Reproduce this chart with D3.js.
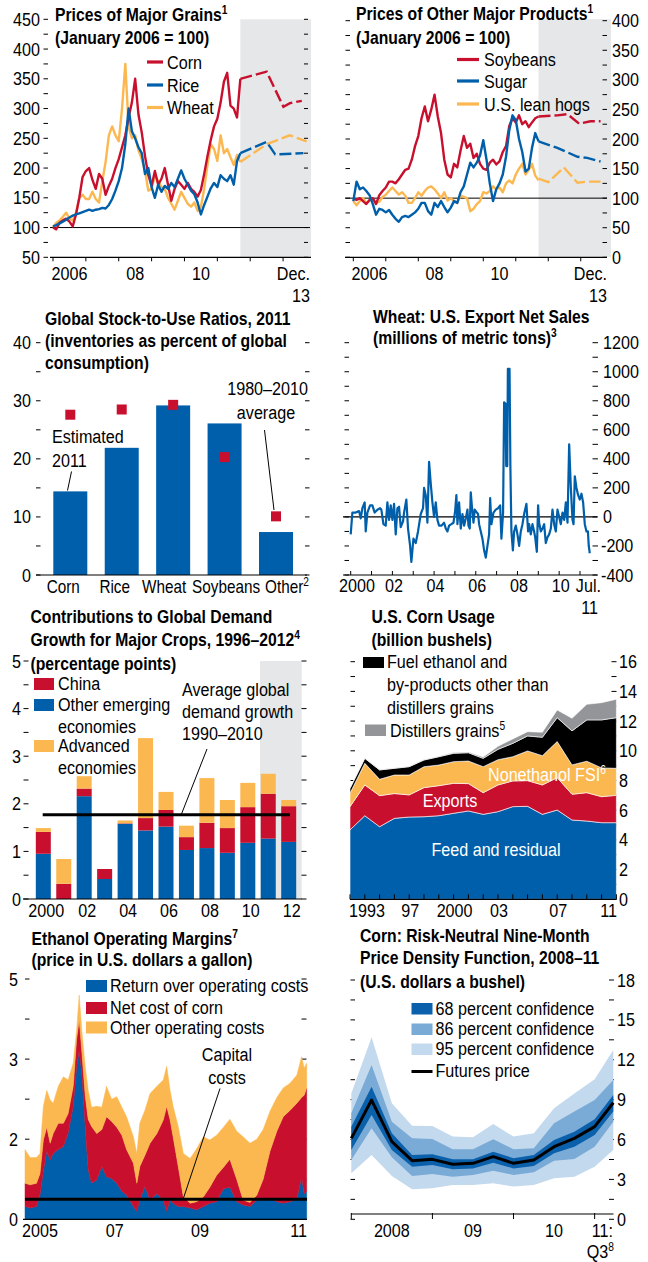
<!DOCTYPE html>
<html>
<head>
<meta charset="utf-8">
<title>Commodity market indicators</title>
<script src="https://cdn.jsdelivr.net/npm/d3@7"></script>
<style>
  body { margin: 0; background: #fff; }
  svg { display: block; font-family: 'Liberation Sans', Arial, sans-serif; }
</style>
</head>
<body>
<svg id="chart" width="648" height="1262"></svg>
<script>
const red = '#c8102e'
const blue = '#005faa'
const yellow = '#fcb850'
const shade = '#e6e7e8'
const distGray = '#939598'
const band68Color = '#0a60ab'
const band86Color = '#7aaad6'
const band95Color = '#c3d9ee'

// prices, January 2006 = 100, read every 0.1 year from 2006.0
const priceStart = 2006
const priceStep = 0.1
const forecastFrom = 2011.7
const cornPrice = [100, 97, 108, 112, 115, 110, 102, 122, 150, 185, 195, 200, 180, 165, 190, 182, 155, 170, 182, 200,
  215, 235, 255, 285, 310, 350, 290, 260, 220, 188, 170, 195, 172, 182, 200, 172, 145, 165, 178, 172,
  165, 175, 165, 160, 152, 163, 190, 220, 247, 270, 283, 310, 345, 360, 305, 300, 285, 350]
const ricePrice = [102, 104, 107, 110, 113, 117, 120, 122, 124, 126, 128, 130, 128, 130, 131, 133, 132, 138, 148, 162,
  178, 200, 240, 300, 262, 250, 235, 225, 190, 200, 168, 150, 172, 160, 170, 165, 175, 168, 182, 196,
  182, 172, 162, 156, 142, 122, 138, 152, 166, 175, 168, 188, 182, 178, 188, 172, 212, 225]
const wheatPrice = [100, 108, 112, 118, 125, 115, 112, 125, 150, 155, 148, 148, 160, 148, 142, 178, 210, 255, 270, 255,
  245, 300, 375, 270, 250, 255, 230, 215, 195, 162, 165, 188, 178, 168, 165, 150, 140, 130, 145, 160,
  150, 140, 135, 142, 128, 135, 165, 205, 240, 232, 212, 255, 225, 232, 218, 205, 222, 210]
const cornForecast = [[2011.7, 350], [2012.5, 362], [2013.01, 303], [2013.21, 309], [2013.57, 313]]
const riceForecast = [[2011.7, 225], [2012.5, 244], [2012.76, 223], [2013.62, 225]]
const wheatForecast = [[2011.7, 210], [2012.5, 240], [2013.2, 255], [2013.72, 245]]

const soyPrice = [100, 97, 100, 95, 90, 97, 100, 90, 105, 112, 118, 128, 128, 125, 132, 140, 148, 150, 165, 188,
  205, 235, 255, 230, 250, 275, 238, 210, 165, 140, 135, 158, 152, 180, 205, 185, 192, 168, 175, 158,
  150, 148, 160, 165, 157, 162, 178, 188, 222, 235, 228, 240, 225, 230, 220, 228, 235, 238]
const sugarPrice = [95, 128, 115, 118, 112, 105, 90, 72, 82, 80, 76, 80, 72, 65, 60, 68, 70, 68, 72, 76,
  82, 92, 92, 78, 72, 92, 85, 95, 85, 76, 84, 95, 92, 110, 120, 140, 160, 152, 160, 172,
  198, 165, 125, 95, 115, 125, 140, 170, 215, 240, 232, 200, 178, 145, 150, 185, 210, 196]
const hogPrice = [95, 88, 95, 100, 92, 96, 98, 92, 94, 102, 106, 112, 118, 112, 106, 110, 104, 92, 92, 100,
  110, 104, 112, 118, 120, 115, 108, 100, 110, 96, 100, 95, 92, 105, 102, 100, 78, 82, 90, 95,
  110, 108, 112, 120, 115, 118, 110, 125, 130, 125, 140, 150, 158, 140, 148, 158, 138, 130]
const soyForecast = [[2011.7, 238], [2012.28, 240], [2012.59, 242], [2012.95, 226], [2013.3, 230], [2013.61, 230]]
const sugarForecast = [[2011.7, 196], [2012.28, 185], [2012.9, 170], [2013.2, 168], [2013.61, 162]]
const hogForecast = [[2011.7, 133], [2012.0, 127], [2012.48, 152], [2012.9, 126], [2013.2, 128], [2013.61, 128]]

const grainTicks = [50, 100, 150, 200, 250, 300, 350, 400, 450]
const productTicks = [0, 50, 100, 150, 200, 250, 300, 350, 400]
const priceYearLabels = ['2006', '08', '10']
const priceYearAt = [2006.5, 2008.5, 2010.5]

// stock-to-use ratios, 2011
const stockCategories = ['Corn', 'Rice', 'Wheat', 'Soybeans', 'Other']
const stockEstimated2011 = [14.4, 21.9, 29.2, 26.1, 7.4]
const stockAverage = [27.6, 28.5, 29.3, 20.3, 10.1]
const stockTicks = [0, 10, 20, 30, 40]

// wheat export net sales
const exportNetSales = [
  [2000.00, -120], [2000.08, 30], [2000.24, 30], [2000.40, 40], [2000.48, -10], [2000.56, 60], [2000.67, 100], [2000.72, -100], [2000.80, 30], [2000.93, 80],
  [2001.04, 80], [2001.15, 30], [2001.28, 50], [2001.41, 60], [2001.47, 50], [2001.57, -50], [2001.68, -60], [2001.76, 100], [2001.84, -20], [2001.92, 80],
  [2002.00, -20], [2002.08, 90], [2002.16, -120], [2002.24, 60], [2002.32, 70], [2002.40, -70], [2002.51, -30], [2002.56, 30], [2002.67, 120], [2002.75, -80],
  [2002.85, -200], [2002.91, -310], [2003.01, -150], [2003.12, -180], [2003.23, -100], [2003.36, 20], [2003.47, 60], [2003.52, 200], [2003.60, 150], [2003.68, -40],
  [2003.76, 380], [2003.84, 230], [2003.92, 100], [2004.00, 0], [2004.08, 100], [2004.16, -20], [2004.24, -60], [2004.35, -60], [2004.48, -40], [2004.56, -80],
  [2004.64, -100], [2004.72, -60], [2004.83, -50], [2004.93, -40], [2005.01, 40], [2005.07, 150], [2005.12, -50], [2005.20, 100], [2005.28, -80], [2005.36, 20],
  [2005.44, -60], [2005.52, -10], [2005.60, 50], [2005.65, -60], [2005.71, -80], [2005.76, 170], [2005.81, 80], [2005.89, -40], [2005.95, 50], [2006.05, 30],
  [2006.11, 20], [2006.16, -50], [2006.24, -100], [2006.32, -150], [2006.40, -230], [2006.48, -280], [2006.56, -200], [2006.64, -120], [2006.69, 130], [2006.75, -50],
  [2006.85, 30], [2006.96, 50], [2007.07, 60], [2007.17, 80], [2007.23, -150], [2007.31, 30], [2007.36, 790], [2007.43, 780], [2007.46, 350], [2007.51, 350],
  [2007.54, 1020], [2007.62, 1020], [2007.66, 350], [2007.71, -100], [2007.78, -230], [2007.84, -100], [2007.92, -60], [2008.00, -120], [2008.08, -200], [2008.16, -100],
  [2008.24, -50], [2008.32, 20], [2008.43, 90], [2008.51, -100], [2008.56, -50], [2008.64, -120], [2008.72, -50], [2008.80, -100], [2008.85, -140], [2008.93, -240],
  [2008.99, 80], [2009.04, -40], [2009.12, -100], [2009.20, -80], [2009.28, -50], [2009.36, -180], [2009.44, -140], [2009.52, -120], [2009.60, -80], [2009.68, 50],
  [2009.76, -50], [2009.84, -100], [2009.92, 50], [2010.00, 0], [2010.08, -50], [2010.16, 30], [2010.24, -20], [2010.32, 100], [2010.40, -40], [2010.48, 500],
  [2010.56, 200], [2010.64, -20], [2010.69, -50], [2010.75, 280], [2010.83, 200], [2010.91, 150], [2010.99, 120], [2011.07, 160], [2011.15, 100], [2011.23, -50],
  [2011.31, -100], [2011.38, -100], [2011.42, -200], [2011.47, -250]
]
const exportTicks = [-400, -200, 0, 200, 400, 600, 800, 1000, 1200]
const exportYearLabels = ['02', '04', '06', '08', '10']
const exportYearAt = [2002, 2004, 2006, 2008, 2010]

// contributions to global demand growth
const demandYears = [2000, 2001, 2002, 2003, 2004, 2005, 2006, 2007, 2008, 2009, 2010, 2011, 2012]
const demandOtherEmerging = [0.95, 0, 2.16, 0.42, 1.58, 1.44, 1.52, 1.03, 1.07, 0.97, 1.18, 1.27, 1.20]
const demandChina = [0.46, 0.32, 0.16, 0.21, 0.01, 0.26, 0.35, 0.27, 0.53, 0.52, 0.75, 0.94, 0.75]
const demandAdvanced = [0.08, 0.52, 0.26, 0, 0.06, 1.68, 0.38, 0.24, 0.94, 0.59, 0.51, 0.42, 0.13]
const demandAverage = 1.77
const demandTicks = [0, 1, 2, 3, 4, 5]
const demandYearLabels = ['2000', '02', '04', '06', '08', '10', '12']

// U.S. corn usage, billion bushels
const cornUseYears = [1993, 1994, 1995, 1996, 1997, 1998, 1999, 2000, 2001, 2002, 2003, 2004, 2005, 2006, 2007, 2008, 2009, 2010, 2011]
const cornFeed = [4.67, 5.63, 4.89, 5.45, 5.54, 5.56, 5.63, 5.79, 5.95, 5.72, 5.90, 6.24, 6.26, 5.72, 6.01, 5.34, 5.27, 5.16, 5.16]
const cornExports = [1.57, 2.07, 2.09, 1.67, 1.49, 1.96, 2.02, 2.02, 1.84, 1.46, 1.80, 1.73, 1.73, 1.98, 2.18, 1.73, 1.91, 1.75, 1.84]
const cornFsi = [0.90, 1.46, 1.10, 1.25, 1.34, 1.41, 1.39, 1.46, 1.52, 1.75, 1.70, 1.63, 2.00, 1.97, 2.43, 1.98, 2.12, 1.94, 1.82]
const cornEthanol = [0.33, 0.33, 0.63, 0.45, 0.56, 0.45, 0.56, 0.56, 0.56, 0.56, 0.70, 0.90, 1.01, 1.24, 1.61, 2.29, 2.78, 3.23, 3.41]
const cornDistillers = [0.03, 0.03, 0.03, 0.03, 0.03, 0.04, 0.04, 0.05, 0.05, 0.10, 0.20, 0.30, 0.29, 0.34, 0.52, 0.85, 1.05, 1.16, 1.24]
const cornUseTicks = [0, 2, 4, 6, 8, 10, 12, 14, 16]
const cornUseYearLabels = ['97', '2000', '03', '07']
const cornUseYearAt = [1997, 2000, 2003, 2007]

// ethanol operating margins
const ethanolTimes = [2004.90, 2005.02, 2005.17, 2005.25, 2005.33, 2005.41, 2005.49, 2005.56, 2005.68, 2005.80,
  2005.91, 2006.03, 2006.11, 2006.17, 2006.23, 2006.31, 2006.38, 2006.46, 2006.58, 2006.70,
  2006.81, 2006.93, 2007.05, 2007.17, 2007.28, 2007.44, 2007.52, 2007.59, 2007.71, 2007.83,
  2007.99, 2008.14, 2008.22, 2008.30, 2008.37, 2008.49, 2008.61, 2008.77, 2008.92, 2009.08,
  2009.23, 2009.39, 2009.55, 2009.70, 2009.86, 2010.01, 2010.17, 2010.33, 2010.48, 2010.64,
  2010.80, 2010.95, 2011.11, 2011.27, 2011.38, 2011.44, 2011.50]
const ethanolReturn = [0.16, 0.14, 0.16, 0.30, 0.60, 0.85, 0.74, 0.82, 0.87, 0.91,
  1.07, 1.41, 1.90, 2.11, 1.82, 1.16, 0.62, 0.45, 0.49, 0.66,
  0.53, 0.51, 0.45, 0.35, 0.30, 0.16, 0.10, 0.24, 0.41, 0.24,
  0.32, 0.24, 0.10, 0.24, 0.20, 0.16, 0.16, 0.14, 0.12, 0.16,
  0.20, 0.22, 0.38, 0.40, 0.22, 0.18, 0.16, 0.24, 0.24, 0.26,
  0.22, 0.20, 0.22, 0.25, 0.53, 0.32, 0.35]
const ethanolCornCost = [0.29, 0.29, 0.29, 0.27, 0.39, 0.30, 0.21, 0.25, 0.33, 0.29,
  0.25, 0.25, 0.35, 0.38, 0.28, 0.39, 0.63, 0.71, 0.58, 0.46,
  0.75, 0.71, 0.70, 0.70, 0.57, 0.54, 0.35, 0.42, 0.39, 0.71,
  0.75, 1.00, 1.31, 1.00, 0.83, 0.50, 0.12, 0.06, 0.10, 0.12,
  0.20, 0.33, 0.27, 0.35, 0.28, 0.06, 0.05, 0.06, 0.26, 0.59,
  0.88, 1.08, 1.14, 1.20, 0.99, 1.23, 1.29]
const ethanolOtherCost = [0.42, 0.34, 0.32, 0.25, 0.42, 0.46, 0.54, 0.38, 0.46, 0.58,
  0.42, 0.29, 0.11, 0.31, 0.26, 0.36, 0.36, 0.24, 0.34, 0.28,
  0.38, 0.28, 0.38, 0.35, 0.41, 0.33, 0.37, 0.54, 0.56, 0.62,
  0.59, 0.50, 0.50, 0.37, 0.38, 0.50, 0.54, 0.56, 0.66, 0.75,
  0.59, 0.50, 0.50, 0.50, 0.60, 0.79, 0.74, 0.70, 0.62, 0.50,
  0.42, 0.36, 0.34, 0.35, 0.51, 0.34, 0.31]
const capitalCost = 0.25
const ethanolTickAt = [0, 0.5, 1, 1.5, 2, 2.5, 3]
const ethanolTickLabels = ['0', '', '2', '', '3', '', '5']
const ethanolYearLabels = ['07', '09']
const ethanolYearAt = [2007, 2009]

// corn risk-neutral density, U.S. dollars a bushel
const densityDates = [2008.0, 2008.25, 2008.5, 2008.75, 2009.0, 2009.25, 2009.5, 2009.75, 2010.0, 2010.25, 2010.5, 2010.75, 2011.0, 2011.23]
const futuresPrice = [6.09, 8.97, 5.84, 4.41, 4.51, 4.14, 4.21, 4.71, 4.21, 4.46, 5.46, 6.09, 6.97, 8.77]
const band68Low = [5.21, 7.84, 5.21, 3.96, 4.09, 3.76, 3.83, 4.26, 3.83, 4.01, 4.96, 5.46, 6.34, 8.10]
const band68High = [6.97, 9.97, 6.47, 4.84, 4.89, 4.51, 4.51, 5.09, 4.59, 4.84, 5.96, 6.59, 7.52, 9.35]
const band86Low = [4.46, 6.84, 4.66, 3.26, 3.41, 3.21, 3.33, 3.66, 3.33, 3.53, 4.41, 4.54, 5.46, 7.34]
const band86High = [7.97, 11.6, 7.34, 6.09, 6.04, 5.26, 5.26, 6.02, 5.26, 5.34, 7.22, 8.10, 8.97, 10.48]
const band95Low = [3.46, 4.84, 3.26, 2.26, 2.33, 2.58, 2.58, 2.71, 2.46, 2.58, 3.08, 3.21, 3.96, 5.21]
const band95High = [9.47, 13.7, 8.72, 7.04, 7.02, 6.22, 6.17, 7.17, 6.22, 6.47, 8.35, 9.47, 10.53, 12.73]
const densityTicks = [0, 3, 6, 9, 12, 15, 18]
const densityYearLabels = ['2008', '09', '10']
const densityYearAt = [2008.5, 2009.5, 2010.5]

const titleSize = 18.5
const textSize = 19
const supSize = 12
// the original face is a condensed grotesque, so squeeze Liberation Sans sideways
const squeeze = 0.85

var svg = d3.select('#chart')

function addText(g, x, y, str, opts) {
  opts = opts || {}
  var t = g.append('text')
    .attr('transform', 'translate(' + x + ',' + y + ') scale(' + squeeze + ',1)')
    .attr('font-size', opts.size || textSize)
    .attr('text-anchor', opts.anchor || 'start')
    .attr('fill', opts.fill || '#000')
  if (opts.bold) t.attr('font-weight', 'bold')
  t.append('tspan').text(str)
  if (opts.sup) {
    t.append('tspan').attr('dy', -7).attr('font-size', supSize).text(opts.sup)
  }
  return t
}

function addTitle(g, x, ys, lines, supLine, sup) {
  lines.forEach(function(line, i) {
    addText(g, x, ys[i], line, { bold: true, size: titleSize, sup: i === supLine ? sup : null })
  })
}

function drawDashes(g, ys, x1, x2) {
  g.selectAll(null)
    .data(ys)
    .enter()
    .append('line')
    .attr('x1', x1)
    .attr('x2', x2)
    .attr('y1', function(d) { return d })
    .attr('y2', function(d) { return d })
    .attr('stroke', '#000')
    .attr('stroke-width', 1)
}

function drawHLine(g, x1, x2, y, width, color) {
  g.append('line')
    .attr('x1', x1)
    .attr('x2', x2)
    .attr('y1', y)
    .attr('y2', y)
    .attr('stroke', color || '#000')
    .attr('stroke-width', width)
}

function drawXTicks(g, xs, y1, y2) {
  g.selectAll(null)
    .data(xs)
    .enter()
    .append('line')
    .attr('x1', function(d) { return d })
    .attr('x2', function(d) { return d })
    .attr('y1', y1)
    .attr('y2', y2)
    .attr('stroke', '#000')
    .attr('stroke-width', 1)
}

function toPairs(values, start, step) {
  return values.map(function(v, i) { return [start + i * step, v] })
}

function drawPriceLines(g, x, y, series) {
  var line = d3.line()
    .x(function(d) { return x(d[0]) })
    .y(function(d) { return y(d[1]) })
  series.forEach(function(s) {
    g.append('path')
      .datum(toPairs(s.values, priceStart, priceStep))
      .attr('d', line)
      .attr('fill', 'none')
      .attr('stroke', s.color)
      .attr('stroke-width', 2.4)
      .attr('stroke-linejoin', 'round')
    g.append('path')
      .datum(s.forecast)
      .attr('d', line)
      .attr('fill', 'none')
      .attr('stroke', s.color)
      .attr('stroke-width', 2.4)
      .attr('stroke-dasharray', '12,4')
  })
}

function drawLineLegend(g, x1, x2, textX, items) {
  items.forEach(function(item) {
    drawHLine(g, x1, x2, item.y, 3.2, item.color)
    addText(g, textX, item.y + 6.5, item.label)
  })
}

function drawBoxLegend(g, x, w, h, textX, items) {
  items.forEach(function(item) {
    g.append('rect')
      .attr('x', x)
      .attr('y', item.y)
      .attr('width', w)
      .attr('height', h)
      .attr('fill', item.color)
    item.lines.forEach(function(l, i) {
      addText(g, textX, item.y + h + i * 22, l)
    })
  })
}

function drawMajorGrains() {
  var g = svg.append('g')
  var x = d3.scaleLinear().domain([2006, 2013.85]).range([53, 311])
  var y = d3.scaleLinear().domain([50, 450]).range([257.3, 19.3])

  g.append('rect')
    .attr('x', x(forecastFrom))
    .attr('y', y(450))
    .attr('width', x(2013.85) - x(forecastFrom))
    .attr('height', y(50) - y(450))
    .attr('fill', shade)

  var dashValues = d3.range(50, 451, 25)
  drawDashes(g, dashValues.map(y), 43.5, 48)
  drawDashes(g, dashValues.map(y), 304, 308)
  grainTicks.forEach(function(v) {
    addText(g, 40, y(v) + 6.5, v, { anchor: 'end' })
  })

  drawHLine(g, 50, 310, y(100), 1)
  drawHLine(g, 50, 311, y(50), 1.2)
  drawXTicks(g, d3.range(2006, 2014).map(x), y(50), y(50) + 4)
  priceYearLabels.forEach(function(l, i) {
    addText(g, x(priceYearAt[i]), 280, l, { anchor: 'middle' })
  })
  addText(g, 310, 280, 'Dec.', { anchor: 'end' })
  addText(g, 310, 302, '13', { anchor: 'end' })

  drawPriceLines(g, x, y, [
    { values: wheatPrice, forecast: wheatForecast, color: yellow },
    { values: cornPrice, forecast: cornForecast, color: red },
    { values: ricePrice, forecast: riceForecast, color: blue }
  ])

  drawLineLegend(g, 147, 163, 167, [
    { label: 'Corn', color: red, y: 62 },
    { label: 'Rice', color: blue, y: 85 },
    { label: 'Wheat', color: yellow, y: 107.5 }
  ])
  addTitle(g, 55, [21, 44], ['Prices of Major Grains', '(January 2006 = 100)'], 0, '1')
}

function drawOtherProducts() {
  var g = svg.append('g')
  var x = d3.scaleLinear().domain([2006, 2013.9]).range([353.3, 610])
  var y = d3.scaleLinear().domain([0, 400]).range([257.3, 20.7])

  g.append('rect')
    .attr('x', x(forecastFrom))
    .attr('y', y(400) - 1.5)
    .attr('width', 611 - x(forecastFrom))
    .attr('height', y(0) - y(400) + 1.5)
    .attr('fill', shade)

  var dashValues = d3.range(0, 401, 25)
  drawDashes(g, dashValues.map(y), 345.5, 350)
  drawDashes(g, dashValues.map(y), 602.5, 607)
  productTicks.forEach(function(v) {
    addText(g, 612, y(v) + 6.5, v)
  })

  drawHLine(g, 345, 607, y(100), 1)
  drawHLine(g, 345, 607, y(0), 1.2)
  drawXTicks(g, d3.range(2006, 2014).map(x), y(0), y(0) + 4)
  priceYearLabels.forEach(function(l, i) {
    addText(g, x(priceYearAt[i]), 280, l, { anchor: 'middle' })
  })
  addText(g, 607, 280, 'Dec.', { anchor: 'end' })
  addText(g, 607, 302, '13', { anchor: 'end' })

  drawPriceLines(g, x, y, [
    { values: hogPrice, forecast: hogForecast, color: yellow },
    { values: soyPrice, forecast: soyForecast, color: red },
    { values: sugarPrice, forecast: sugarForecast, color: blue }
  ])

  drawLineLegend(g, 457, 479, 484, [
    { label: 'Soybeans', color: red, y: 59.5 },
    { label: 'Sugar', color: blue, y: 81 },
    { label: 'U.S. lean hogs', color: yellow, y: 104 }
  ])
  addTitle(g, 356, [20, 44], ['Prices of Other Major Products', '(January 2006 = 100)'], 0, '1')
}

function drawStockToUse() {
  var g = svg.append('g')
  var x = d3.scalePoint().domain(stockCategories).range([70.3, 276])
  var y = d3.scaleLinear().domain([0, 40]).range([575, 342.7])
  var barWidth = 34
  // the category names are nudged apart so that they do not run into each other
  var labelShift = [-7, -7, -9, 1.5, 11]

  var dashValues = d3.range(0, 41, 5)
  drawDashes(g, dashValues.map(y), 36, 40.5)
  drawDashes(g, dashValues.map(y), 305, 309.5)
  stockTicks.forEach(function(v) {
    addText(g, 31, y(v) + 6.5, v, { anchor: 'end' })
  })

  g.selectAll(null)
    .data(stockCategories)
    .enter()
    .append('rect')
    .attr('x', function(d) { return x(d) - barWidth / 2 })
    .attr('y', function(d, i) { return y(stockEstimated2011[i]) })
    .attr('width', barWidth)
    .attr('height', function(d, i) { return y(0) - y(stockEstimated2011[i]) })
    .attr('fill', blue)

  g.selectAll(null)
    .data(stockCategories)
    .enter()
    .append('rect')
    .attr('x', function(d) { return x(d) - 5 })
    .attr('y', function(d, i) { return y(stockAverage[i]) - 5 })
    .attr('width', 10)
    .attr('height', 10)
    .attr('fill', red)

  drawHLine(g, 36, 307, y(0), 1.2)
  stockCategories.forEach(function(c, i) {
    addText(g, x(c) + labelShift[i], 593, c, { anchor: 'middle', size: 18, sup: c === 'Other' ? '2' : null })
  })

  addText(g, 52, 443, 'Estimated')
  addText(g, 52, 466.5, '2011')
  g.append('line').attr('x1', 71.5).attr('y1', 471.5).attr('x2', 67.5).attr('y2', 490.5).attr('stroke', '#000')
  addText(g, 308, 395, '1980–2010', { anchor: 'end' })
  addText(g, 266, 419, 'average', { anchor: 'middle' })
  g.append('line').attr('x1', 264.5).attr('y1', 430).attr('x2', 274).attr('y2', 510).attr('stroke', '#000')

  addTitle(g, 45, [325, 347, 368.5], ['Global Stock-to-Use Ratios, 2011', '(inventories as percent of global', 'consumption)'], -1, null)
}

function drawExportSales() {
  var g = svg.append('g')
  var x = d3.scaleLinear().domain([2000, 2011.47]).range([350.7, 589.8])
  var y = d3.scaleLinear().domain([-400, 1200]).range([575, 342.7])

  var dashValues = d3.range(-400, 1201, 100)
  drawDashes(g, dashValues.map(y), 344.5, 349)
  drawDashes(g, dashValues.map(y), 592.5, 598)
  exportTicks.forEach(function(v) {
    addText(g, v < 0 ? 601 : 603, y(v) + 6.5, v)
  })

  drawHLine(g, 343, 597, y(0), 1.2)
  drawHLine(g, 343, 597, y(-400), 1.2)
  drawXTicks(g, d3.range(2000, 2012).map(x), y(-400) - 4, y(-400))
  addText(g, 339, 592, '2000')
  exportYearLabels.forEach(function(l, i) {
    addText(g, x(exportYearAt[i]) + 1.5, 592, l, { anchor: 'middle' })
  })
  addText(g, 601, 592, 'Jul.', { anchor: 'end' })
  addText(g, 598, 614, '11', { anchor: 'end' })

  var line = d3.line()
    .x(function(d) { return x(d[0]) })
    .y(function(d) { return y(d[1]) })
  g.append('path')
    .datum(exportNetSales)
    .attr('d', line)
    .attr('fill', 'none')
    .attr('stroke', blue)
    .attr('stroke-width', 2.2)
    .attr('stroke-linejoin', 'round')

  addTitle(g, 373, [322.5, 343.5], ['Wheat: U.S. Export Net Sales', '(millions of metric tons)'], 1, '3')
}

function drawDemandGrowth() {
  var g = svg.append('g')
  var x = d3.scalePoint().domain(demandYears).range([43.3, 288.7])
  var y = d3.scaleLinear().domain([0, 5]).range([899, 661])
  var barWidth = 15

  g.append('rect')
    .attr('x', 260)
    .attr('y', y(5))
    .attr('width', 41.7)
    .attr('height', y(0) - y(5))
    .attr('fill', shade)

  var dashValues = d3.range(0, 5.01, 0.5)
  drawDashes(g, dashValues.map(y), 23.5, 28.5)
  drawDashes(g, dashValues.map(y), 301.5, 306.5)
  demandTicks.forEach(function(v) {
    addText(g, 21, y(v) + 6.5, v, { anchor: 'end' })
  })

  var rows = demandYears.map(function(yr, i) {
    return { year: yr, other: demandOtherEmerging[i], china: demandChina[i], advanced: demandAdvanced[i] }
  })
  var keys = ['other', 'china', 'advanced']
  var colors = { other: blue, china: red, advanced: yellow }
  var stacked = d3.stack().keys(keys)(rows)
  stacked.forEach(function(layer) {
    g.selectAll(null)
      .data(layer)
      .enter()
      .append('rect')
      .attr('x', function(d) { return x(d.data.year) - barWidth / 2 })
      .attr('y', function(d) { return y(d[1]) })
      .attr('width', barWidth)
      .attr('height', function(d) { return y(d[0]) - y(d[1]) })
      .attr('fill', colors[layer.key])
  })

  drawHLine(g, 23, 302, y(0), 1.2)
  drawHLine(g, 42.7, 290, y(demandAverage), 3)
  demandYearLabels.forEach(function(l, i) {
    addText(g, x(demandYears[i * 2]) + 3, 917, l, { anchor: 'middle' })
  })

  drawBoxLegend(g, 34, 20, 12, 58, [
    { color: red, y: 678, lines: ['China'] },
    { color: blue, y: 699, lines: ['Other emerging', 'economies'] },
    { color: yellow, y: 740, lines: ['Advanced', 'economies'] }
  ])
  addText(g, 182, 696, 'Average global')
  addText(g, 182, 718, 'demand growth')
  addText(g, 182, 740, '1990–2010')
  g.append('line').attr('x1', 207).attr('y1', 749).attr('x2', 181.5).attr('y2', 814).attr('stroke', '#000')

  addTitle(g, 30.5, [623, 645.5, 670], ['Contributions to Global Demand', 'Growth for Major Crops, 1996–2012', '(percentage points)'], 1, '4')
}

function drawCornUsage() {
  var g = svg.append('g')
  var x = d3.scaleLinear().domain([1993, 2011]).range([350, 616.4])
  var y = d3.scaleLinear().domain([0, 16]).range([899.3, 661.7])

  var dashValues = d3.range(0, 17, 1)
  drawDashes(g, dashValues.map(y), 350.5, 355)
  drawDashes(g, dashValues.map(y), 611.5, 616.5)
  cornUseTicks.forEach(function(v) {
    addText(g, 619, y(v) + 6.5, v)
  })

  var rows = cornUseYears.map(function(yr, i) {
    return { year: yr, feed: cornFeed[i], exports: cornExports[i], fsi: cornFsi[i], ethanol: cornEthanol[i], distillers: cornDistillers[i] }
  })
  var keys = ['feed', 'exports', 'fsi', 'ethanol', 'distillers']
  var colors = { feed: blue, exports: red, fsi: yellow, ethanol: '#000', distillers: distGray }
  var area = d3.area()
    .x(function(d) { return x(d.data.year) })
    .y0(function(d) { return y(d[0]) })
    .y1(function(d) { return y(d[1]) })
  d3.stack().keys(keys)(rows).forEach(function(layer) {
    g.append('path')
      .datum(layer)
      .attr('d', area)
      .attr('fill', colors[layer.key])
      .attr('stroke', '#fff')
      .attr('stroke-width', 0.6)
  })

  drawHLine(g, 350, 616.5, y(0), 1.2)
  drawXTicks(g, cornUseYears.map(x), y(0) - 5, y(0))
  addText(g, 349, 917, '1993')
  cornUseYearLabels.forEach(function(l, i) {
    addText(g, x(cornUseYearAt[i]) + 1, 917, l, { anchor: 'middle' })
  })
  addText(g, 617, 917, '11', { anchor: 'end' })

  addText(g, 496, 856, 'Feed and residual', { anchor: 'middle', fill: '#fff' })
  addText(g, 450, 807, 'Exports', { anchor: 'middle', fill: '#fff' })
  addText(g, 488, 781, 'Nonethanol FSI', { fill: '#fff', sup: '6' })

  g.append('rect').attr('x', 363).attr('y', 657).attr('width', 21).attr('height', 11).attr('fill', '#000')
  addText(g, 387, 668, 'Fuel ethanol and')
  addText(g, 387, 691, 'by-products other than')
  addText(g, 387, 713.5, 'distillers grains')
  g.append('rect').attr('x', 365).attr('y', 724.5).attr('width', 21).attr('height', 11.5).attr('fill', distGray)
  addText(g, 390, 736.5, 'Distillers grains', { sup: '5' })

  addTitle(g, 371.5, [623, 645.5], ['U.S. Corn Usage', '(billion bushels)'], -1, null)
}

function drawEthanolMargins() {
  var g = svg.append('g')
  var x = d3.scaleLinear().domain([2004.9, 2011.5]).range([25, 306.7])
  var y = d3.scaleLinear().domain([0, 3]).range([1219.3, 979])

  drawDashes(g, ethanolTickAt.map(y), 25, 29.5)
  drawDashes(g, ethanolTickAt.map(y), 301.5, 306.5)
  ethanolTickLabels.forEach(function(l, i) {
    if (l) addText(g, 18, y(ethanolTickAt[i]) + 6.5, l, { anchor: 'end' })
  })

  var rows = ethanolTimes.map(function(t, i) {
    return { t: t, ret: ethanolReturn[i], corn: ethanolCornCost[i], other: ethanolOtherCost[i] }
  })
  var keys = ['ret', 'corn', 'other']
  var colors = { ret: blue, corn: red, other: yellow }
  var area = d3.area()
    .x(function(d) { return x(d.data.t) })
    .y0(function(d) { return y(d[0]) })
    .y1(function(d) { return y(d[1]) })
  d3.stack().keys(keys)(rows).forEach(function(layer) {
    g.append('path')
      .datum(layer)
      .attr('d', area)
      .attr('fill', colors[layer.key])
      .attr('stroke', colors[layer.key])
      .attr('stroke-width', 0.5)
  })

  drawHLine(g, 23, 307, y(0), 1.2)
  drawHLine(g, 25, 307, y(capitalCost), 3)
  addText(g, 22, 1237, '2005')
  ethanolYearLabels.forEach(function(l, i) {
    addText(g, x(ethanolYearAt[i]), 1237, l, { anchor: 'middle' })
  })
  addText(g, 307, 1237, '11', { anchor: 'end' })

  drawBoxLegend(g, 86, 21, 12, 110, [
    { color: blue, y: 980, lines: ['Return over operating costs'] },
    { color: red, y: 1002, lines: ['Net cost of corn'] },
    { color: yellow, y: 1021.5, lines: ['Other operating costs'] }
  ])
  addText(g, 227, 1061, 'Capital', { anchor: 'middle' })
  addText(g, 227, 1084, 'costs', { anchor: 'middle' })
  g.append('line').attr('x1', 220).attr('y1', 1088.5).attr('x2', 183.5).attr('y2', 1198).attr('stroke', '#000')

  addTitle(g, 31.5, [945, 966], ['Ethanol Operating Margins', '(price in U.S. dollars a gallon)'], 0, '7')
}

function drawPriceDensity() {
  var g = svg.append('g')
  var x = d3.scaleLinear().domain([2008, 2011.23]).range([351.3, 613.3])
  var y = d3.scaleLinear().domain([0, 18]).range([1219.3, 980])

  var dashValues = d3.range(0, 18.1, 1.5)
  drawDashes(g, dashValues.map(y), 350.5, 355)
  drawDashes(g, dashValues.map(y), 609, 614)
  densityTicks.forEach(function(v) {
    addText(g, 617, y(v) + 6.5, v)
  })

  var bands = [
    { low: band95Low, high: band95High, color: band95Color },
    { low: band86Low, high: band86High, color: band86Color },
    { low: band68Low, high: band68High, color: band68Color }
  ]
  bands.forEach(function(b) {
    var area = d3.area()
      .x(function(d, i) { return x(densityDates[i]) })
      .y0(function(d, i) { return y(b.low[i]) })
      .y1(function(d, i) { return y(b.high[i]) })
    g.append('path')
      .datum(densityDates)
      .attr('d', area)
      .attr('fill', b.color)
  })
  var line = d3.line()
    .x(function(d, i) { return x(densityDates[i]) })
    .y(function(d) { return y(d) })
  g.append('path')
    .datum(futuresPrice)
    .attr('d', line)
    .attr('fill', 'none')
    .attr('stroke', '#000')
    .attr('stroke-width', 3)
    .attr('stroke-linejoin', 'round')

  drawHLine(g, 351, 613.5, 1214, 1.2)
  drawXTicks(g, [2008, 2009, 2010, 2011].map(x), 1213, 1219)
  densityYearLabels.forEach(function(l, i) {
    addText(g, x(densityYearAt[i]), 1237, l, { anchor: 'middle' })
  })
  addText(g, 613, 1237, '11:', { anchor: 'end' })
  addText(g, 614, 1258, 'Q3', { anchor: 'end', sup: '8' })

  drawBoxLegend(g, 411.5, 21, 11.5, 435.5, [
    { color: band68Color, y: 1003, lines: ['68 percent confidence'] },
    { color: band86Color, y: 1023.5, lines: ['86 percent confidence'] },
    { color: band95Color, y: 1043.5, lines: ['95 percent confidence'] }
  ])
  drawHLine(g, 411.5, 432.5, 1071.5, 3)
  addText(g, 435.5, 1077, 'Futures price')

  addTitle(g, 360, [941.5, 963.5, 988], ['Corn: Risk-Neutral Nine-Month', 'Price Density Function, 2008–11', '(U.S. dollars a bushel)'], -1, null)
}

drawMajorGrains()
drawOtherProducts()
drawStockToUse()
drawExportSales()
drawDemandGrowth()
drawCornUsage()
drawEthanolMargins()
drawPriceDensity()
</script>
</body>
</html>
